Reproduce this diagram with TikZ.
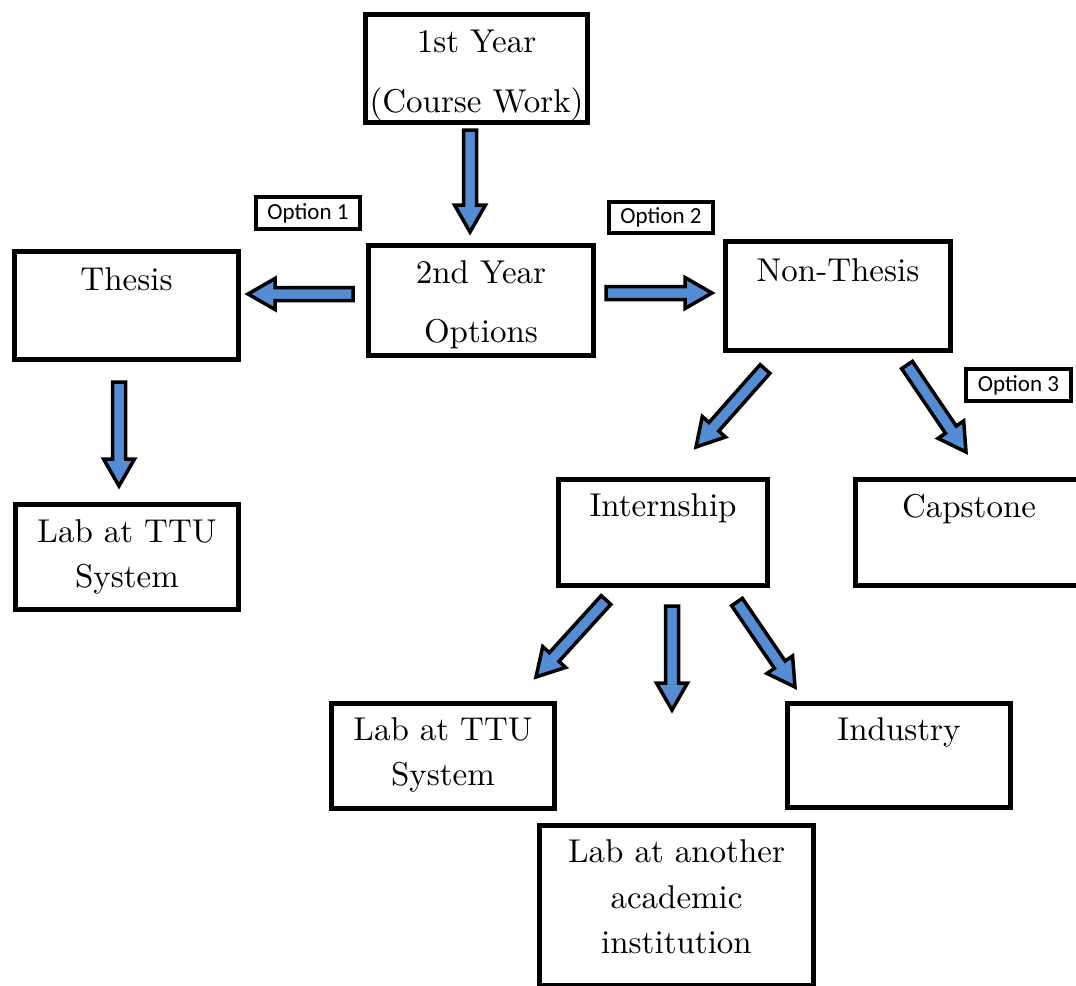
\documentclass[tikz,border=0pt]{standalone}
\usepackage{fontspec}
\setmainfont{lmroman10-regular.otf}
\newfontfamily\optfont{Carlito}
\usetikzlibrary{calc}
\definecolor{arrblue}{RGB}{84,141,212}
\tikzset{
  box/.style={draw=black, line width=5pt, fill=white, inner sep=0pt, rectangle},
  optbox/.style={draw=black, line width=4pt, fill=white, inner sep=0pt, rectangle},
  txt/.style={inner sep=0pt, anchor=base, font=\fontsize{33}{40}\selectfont},
  opttxt/.style={inner sep=0pt, anchor=base, font=\optfont\fontsize{23}{26}\selectfont},
  blockarr/.style={draw=black, fill=arrblue, line width=3.5pt, line join=miter}
}
\newcommand\barrow[2]{%
  \path ($(#2)!27pt!(#1)$) coordinate (bh);
  \filldraw[blockarr] ($(#1)!6.5pt!90:(#2)$) -- ($(bh)!6.5pt!90:(#2)$) -- ($(bh)!15.5pt!90:(#2)$) -- (#2) -- ($(bh)!15.5pt!-90:(#2)$) -- ($(bh)!6.5pt!-90:(#2)$) -- ($(#1)!6.5pt!-90:(#2)$) -- cycle;
}
\begin{document}
\begin{tikzpicture}[x=1pt, y=-1pt]
\fill[white] (0,0) rectangle (1076,985);
\useasboundingbox (0,0) rectangle (1076,985);

% boxes
\node[box, minimum width=222, minimum height=108] (y1) at (476.5,68.5) {};
\node[box, minimum width=225, minimum height=110] (y2) at (481,300.5) {};
\node[box, minimum width=224, minimum height=108] (thesis) at (126.5,305.5) {};
\node[box, minimum width=223, minimum height=105] (labL) at (127,557) {};
\node[box, minimum width=225, minimum height=109] (nt) at (838,296) {};
\node[box, minimum width=209, minimum height=106] (intern) at (663,532.5) {};
\node[box, minimum width=232, minimum height=106] (cap) at (971.5,532.5) {};
\node[box, minimum width=223, minimum height=105] (labB) at (443,756) {};
\node[box, minimum width=223, minimum height=104] (ind) at (899,755.5) {};
\node[box, minimum width=274, minimum height=160] (labA) at (676.5,905.5) {};

% option labels
\node[optbox, minimum width=104, minimum height=32] (o1) at (308,213) {};
\node[optbox, minimum width=104, minimum height=31] (o2) at (661,217.5) {};
\node[optbox, minimum width=105, minimum height=32] (o3) at (1018.5,385) {};
\node[opttxt] (o1t) at (308,219) {Option 1};
\node[opttxt] (o2t) at (661,223.5) {Option 2};
\node[opttxt] (o3t) at (1018.5,391) {Option 3};

% texts
\node[txt] (y1a) at (476.5,52) {1st Year};
\node[txt] (y1b) at (476.5,112) {(Course Work)};
\node[txt] (y2a) at (481,283) {2nd Year};
\node[txt] (y2b) at (481,342) {Options};
\node[txt] (tht) at (126.5,290) {Thesis};
\node[txt] (labLa) at (127,542) {Lab at TTU};
\node[txt] (labLb) at (127,587) {System};
\node[txt] (ntt) at (838,281) {Non-Thesis};
\node[txt] (intt) at (663,516) {Internship};
\node[txt] (capt) at (969,517) {Capstone};
\node[txt] (labBa) at (443,740) {Lab at TTU};
\node[txt] (labBb) at (443,785) {System};
\node[txt] (indt) at (899,740) {Industry};
\node[txt] (labAa) at (676.5,862) {Lab at another};
\node[txt] (labAb) at (676.5,908) {academic};
\node[txt] (labAc) at (676.5,953) {institution};

% arrow end points
\coordinate (a1s) at (470,130);  \coordinate (a1e) at (470,232);
\coordinate (a2s) at (353,294);  \coordinate (a2e) at (248,294);
\coordinate (a3s) at (606,293);  \coordinate (a3e) at (712,293);
\coordinate (a4s) at (119,382);  \coordinate (a4e) at (119,486);
\coordinate (a5s) at (765,369);  \coordinate (a5e) at (696,447);
\coordinate (a6s) at (907,365);  \coordinate (a6e) at (966,452);
\coordinate (a7s) at (606,600);  \coordinate (a7e) at (536,677);
\coordinate (a8s) at (672,606);  \coordinate (a8e) at (672,710);
\coordinate (a9s) at (737,602);  \coordinate (a9e) at (795,687);

\barrow{a1s}{a1e}
\barrow{a2s}{a2e}
\barrow{a3s}{a3e}
\barrow{a4s}{a4e}
\barrow{a5s}{a5e}
\barrow{a6s}{a6e}
\barrow{a7s}{a7e}
\barrow{a8s}{a8e}
\barrow{a9s}{a9e}
\end{tikzpicture}
\end{document}
